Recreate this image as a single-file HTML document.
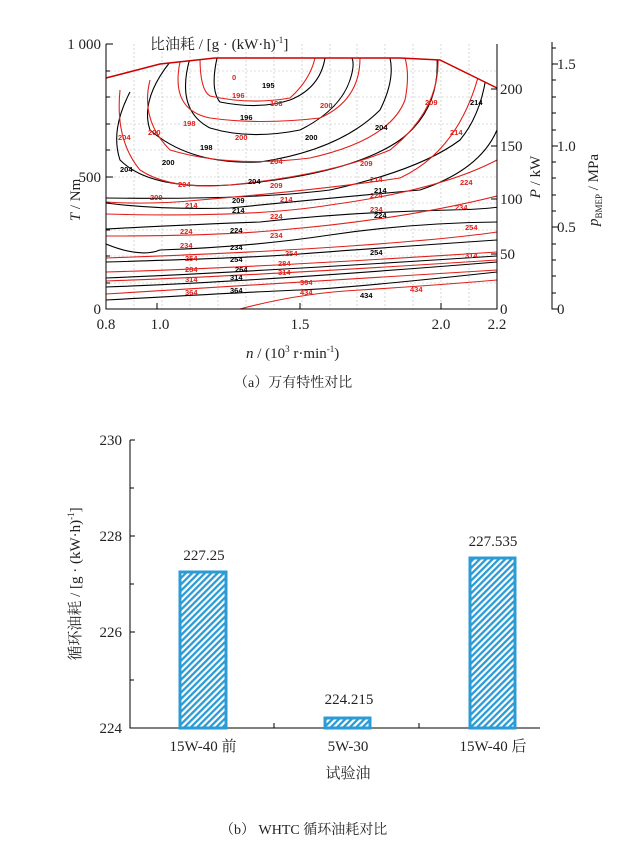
<!DOCTYPE html>
<html><head><meta charset="utf-8"><style>
body{margin:0;background:#fff;width:617px;height:863px;overflow:hidden}
svg text{font-family:"Liberation Serif","Noto Serif CJK SC",serif}
svg .l text{font-family:"Liberation Sans",sans-serif;font-size:7.5px;font-weight:bold}
</style></head><body>
<svg width="617" height="863" viewBox="0 0 617 863">
<defs>
<pattern id="h" width="4.5" height="4.5" patternUnits="userSpaceOnUse" patternTransform="rotate(45)">
<rect width="4.5" height="4.5" fill="#fff"/><rect width="2.3" height="4.5" fill="#2b9bd6"/></pattern>
<clipPath id="c"><path d="M106,78 L160,64 L215,58 L400,58 L440,60 L497,88 L497,309 L106,309Z"/></clipPath>
</defs>
<g stroke="#bbb" stroke-width="0.6" stroke-dasharray="2,2">
<path d="M134,44V309M162,44V309M190,44V309M218,44V309M246,44V309M274,44V309M302,44V309M330,44V309M357,44V309M385,44V309M413,44V309M441,44V309M469,44V309"/>
<path d="M106,71H497M106,97H497M106,124H497M106,150H497M106,177H497M106,203H497M106,230H497M106,256H497M106,283H497"/>
</g>
<g clip-path="url(#c)" fill="none" stroke-width="1.1">
<g stroke="#000">
<path d="M106,300 Q250,292 300,290 T497,272"/>
<path d="M106,287 Q250,282 497,262"/>
<path d="M106,278 Q250,272 497,256"/>
<path d="M106,262 Q250,258 300,254 T497,240"/>
<path d="M106,244 Q140,258 160,250 Q250,247 330,235 T497,222"/>
<path d="M106,229 Q200,224 260,222 Q350,212 450,210 T497,190"/>
<path d="M106,203 Q160,210 230,208 Q330,198 420,190 Q480,170 497,130"/>
<path d="M106,198 Q250,200 330,190 Q420,170 460,140 Q485,110 488,58"/>
<path d="M130,92 Q110,130 120,160 Q150,190 230,185 Q350,175 400,140 Q440,110 437,58"/>
<path d="M170,62 Q140,100 150,130 Q190,165 260,162 Q340,150 380,110 Q395,80 390,58"/>
<path d="M190,58 Q175,110 210,128 Q250,140 300,130 Q340,110 350,80 Q355,65 352,58"/>
<path d="M217,58 Q210,90 220,102 Q260,110 290,100 Q320,88 325,58"/>
</g>
<g stroke="#e0201a">
<path d="M240,309 Q300,293 360,290 Q440,285 497,280"/>
<path d="M106,294 Q250,286 497,270"/>
<path d="M106,281 Q250,276 497,260"/>
<path d="M106,272 Q250,268 497,252"/>
<path d="M106,258 Q250,253 350,246 T497,232"/>
<path d="M106,236 Q220,236 280,230 Q400,220 497,196"/>
<path d="M106,214 Q250,218 330,205 Q440,190 497,160"/>
<path d="M106,202 Q150,205 200,200 Q320,190 400,178 Q460,150 480,70"/>
<path d="M120,90 Q115,140 140,170 Q170,190 230,185 Q330,175 390,150 Q440,110 438,58"/>
<path d="M150,80 Q140,120 170,150 Q230,168 310,158 Q390,140 405,100 Q410,75 405,58"/>
<path d="M180,62 Q170,110 210,118 Q260,125 320,118 Q360,100 360,58"/>
<path d="M200,58 Q200,90 210,96 Q250,105 290,98 Q310,80 315,58"/>
</g>
</g>
<path d="M106,78 L160,64 L215,58 L400,58 L440,60 L497,88" fill="none" stroke="#c00" stroke-width="1.5"/>
<g class="l" fill="#e0201a">
<text x="232" y="80">0</text><text x="232" y="98">196</text><text x="270" y="106">198</text><text x="183" y="126">198</text><text x="235" y="140">200</text><text x="320" y="108">200</text>
<text x="118" y="140">204</text><text x="148" y="135">200</text><text x="178" y="187">204</text><text x="270" y="164">204</text><text x="360" y="166">209</text><text x="425" y="105">209</text><text x="150" y="200">209</text><text x="270" y="188">209</text><text x="370" y="182">214</text><text x="185" y="208">214</text><text x="280" y="202">214</text><text x="450" y="135">214</text><text x="370" y="198">224</text><text x="460" y="185">224</text><text x="180" y="234">224</text><text x="270" y="219">224</text><text x="370" y="212">234</text><text x="180" y="248">234</text><text x="270" y="238">234</text><text x="455" y="210">234</text><text x="185" y="261">254</text><text x="285" y="256">254</text><text x="465" y="230">254</text><text x="185" y="272">284</text><text x="278" y="266">284</text><text x="185" y="282">314</text><text x="278" y="275">314</text><text x="465" y="258">314</text><text x="185" y="295">364</text><text x="300" y="285">364</text><text x="300" y="295">434</text><text x="410" y="292">434</text>
</g>
<g class="l" fill="#000">
<text x="262" y="88">195</text><text x="240" y="120">196</text><text x="200" y="150">198</text><text x="162" y="165">200</text><text x="305" y="140">200</text><text x="375" y="130">204</text><text x="120" y="172">204</text><text x="248" y="184">204</text><text x="232" y="203">209</text><text x="232" y="213">214</text><text x="374" y="193">214</text><text x="230" y="233">224</text><text x="374" y="218">224</text><text x="230" y="250">234</text><text x="230" y="262">254</text><text x="370" y="255">254</text><text x="235" y="272">264</text><text x="230" y="280">314</text><text x="230" y="293">364</text><text x="360" y="298">434</text><text x="470" y="105">214</text>
</g>
<g stroke="#000" stroke-width="1" fill="none">
<path d="M106,44V309H497V44"/>
<path d="M552,42V309H558"/>
<path d="M106,44H113M106,71H110M106,97H110M106,124H110M106,150H110M106,177H113M106,203H110M106,230H110M106,256H110M106,283H110"/>
<path d="M157,309V303M300,309V303M441,309V303M497,89H491M497,146H491M497,199H491M497,254H491"/>
<path d="M552,64H558M552,146H558M552,227H558M552,80H556M552,97H556M552,113H556M552,130H556M552,162H556M552,178H556M552,195H556M552,211H556M552,244H556M552,260H556M552,276H556M552,293H556M552,48H556"/>
</g>
<g font-size="15" fill="#222">
<text x="101" y="49" text-anchor="end">1 000</text><text x="101" y="182" text-anchor="end">500</text><text x="101" y="314" text-anchor="end">0</text>
<text x="106" y="329" text-anchor="middle">0.8</text><text x="160" y="329" text-anchor="middle">1.0</text><text x="300" y="329" text-anchor="middle">1.5</text><text x="441" y="329" text-anchor="middle">2.0</text><text x="497" y="329" text-anchor="middle">2.2</text>
<text x="500" y="94">200</text><text x="500" y="151">150</text><text x="500" y="204">100</text><text x="500" y="259">50</text><text x="500" y="314">0</text>
<text x="557" y="69">1.5</text><text x="557" y="151">1.0</text><text x="557" y="232">0.5</text><text x="557" y="314">0</text>
<text x="150" y="49">比油耗 / [g · (kW·h)<tspan font-size="9" dy="-6">-1</tspan><tspan dy="6">]</tspan></text>
<text x="246" y="358"><tspan font-style="italic">n</tspan> / (10<tspan font-size="9" dy="-6">3</tspan><tspan dy="6"> r·min</tspan><tspan font-size="9" dy="-6">-1</tspan><tspan dy="6">)</tspan></text>
<text transform="translate(80,200) rotate(-90)" text-anchor="middle"><tspan font-style="italic">T</tspan> / Nm</text>
<text transform="translate(540,177) rotate(-90)" text-anchor="middle"><tspan font-style="italic">P</tspan> / kW</text>
<text transform="translate(598,190) rotate(-90)" text-anchor="middle"><tspan font-style="italic">p</tspan><tspan font-size="9" dy="4">BMEP</tspan><tspan dy="-4"> / MPa</tspan></text>
<text x="234" y="387" font-size="14">（a）万有特性对比</text>
</g>
<g stroke="#000" stroke-width="1" fill="none">
<path d="M130,440V728H540"/>
<path d="M130,440H135M130,488H134M130,536H135M130,584H134M130,632H135M130,680H134M274,728V723M419,728V723"/>
</g>
<rect x="180" y="572" width="46" height="156" fill="url(#h)" stroke="#2b9bd6" stroke-width="3"/>
<rect x="325" y="718" width="45" height="10" fill="url(#h)" stroke="#2b9bd6" stroke-width="3"/>
<rect x="470" y="558" width="45" height="170" fill="url(#h)" stroke="#2b9bd6" stroke-width="3"/>
<g font-size="15" fill="#222">
<text x="122" y="445" text-anchor="end">230</text><text x="122" y="541" text-anchor="end">228</text><text x="122" y="637" text-anchor="end">226</text><text x="122" y="733" text-anchor="end">224</text>
<text x="204" y="560" text-anchor="middle">227.25</text><text x="349" y="704" text-anchor="middle">224.215</text><text x="493" y="546" text-anchor="middle">227.535</text>
<text x="203" y="751" text-anchor="middle">15W-40 前</text><text x="348" y="751" text-anchor="middle">5W-30</text><text x="493" y="751" text-anchor="middle">15W-40 后</text>
<text x="348" y="778" text-anchor="middle">试验油</text>
<text transform="translate(80,584) rotate(-90)" text-anchor="middle">循环油耗 / [g · (kW·h)<tspan font-size="9" dy="-6">-1</tspan><tspan dy="6">]</tspan></text>
<text x="220" y="834" font-size="14">（b） WHTC 循环油耗对比</text>
</g>
</svg>
</body></html>
